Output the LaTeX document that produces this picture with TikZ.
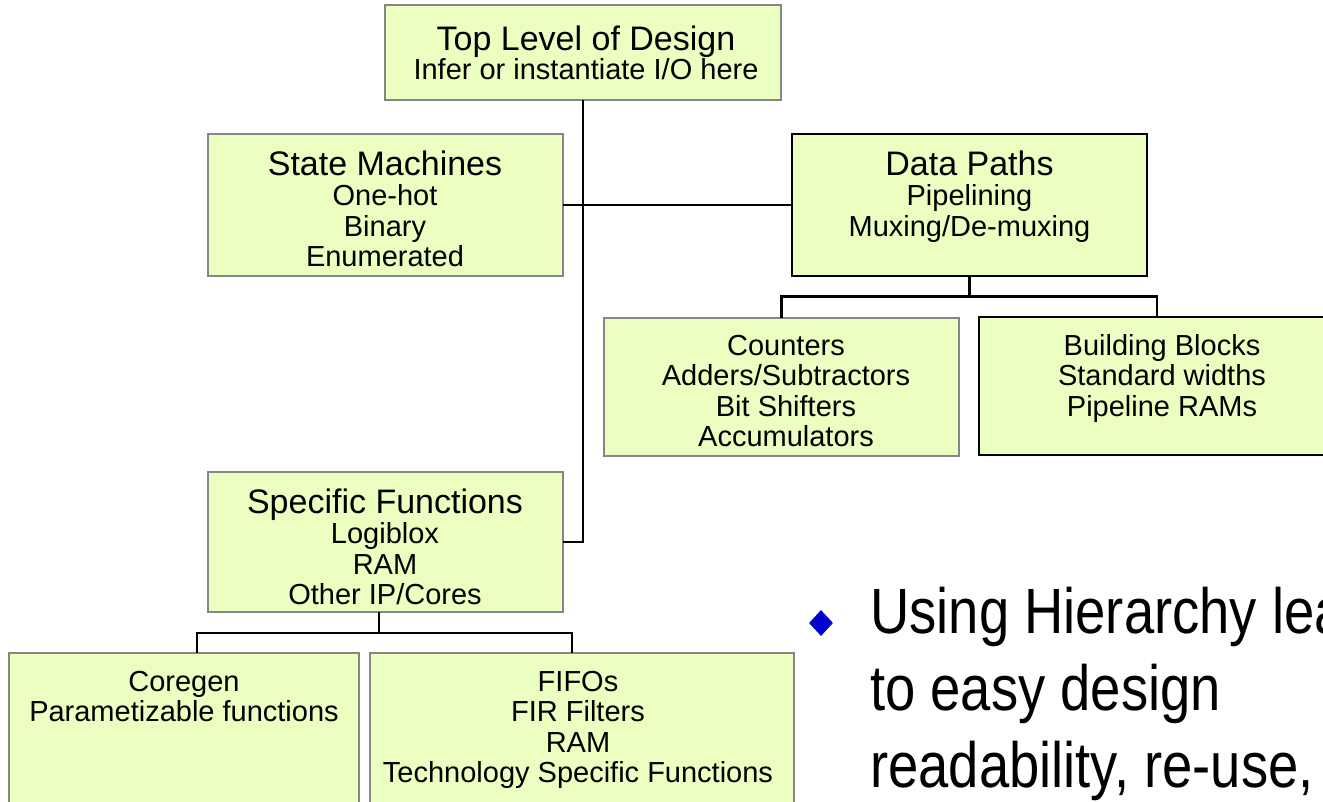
\documentclass[tikz,border=0pt]{standalone}
\usepackage{fontspec}
\setmainfont{Liberation Sans}
\newfontfamily\narrowfont[FakeStretch=0.85]{Liberation Sans}
\usetikzlibrary{shapes.geometric}

\definecolor{boxfill}{RGB}{235,255,192}
\definecolor{boxgray}{RGB}{134,134,134}
\definecolor{bulletblue}{RGB}{0,0,204}

% title line of a box, with a fixed-height strut so the first baseline is known
\newcommand\boxtitle[1]{{\fontsize{34}{30.5}\selectfont\rule{0pt}{26pt}#1}}
\newcommand\firstsub{\rule{0pt}{22pt}}

\begin{document}
\begin{tikzpicture}[x=1pt,y=-1pt,
  box/.style={draw=boxgray, line width=2pt, fill=boxfill, inner sep=0pt, outer sep=0pt},
  darkbox/.style={box, draw=black},
  boxtext/.style={align=center, inner sep=0pt, anchor=north,
                  font=\fontsize{29}{30.5}\selectfont},
  link/.style={line width=2.5pt, draw=black}]
\useasboundingbox (0,0) rectangle (1323,801);
\clip (0,0) rectangle (1323,801);

% ---- boxes ----
\node[box, minimum width=396.5pt, minimum height=94.5pt] (top) at (582.75,52.25) {};
\node[box, minimum width=355pt, minimum height=142pt] (sm) at (385.5,205) {};
\node[darkbox, minimum width=355pt, minimum height=142pt] (dp) at (969.5,205) {};
\node[box, minimum width=355.5pt, minimum height=138.5pt] (ct) at (781.25,386.75) {};
\node[darkbox, minimum width=356pt, minimum height=138pt] (bb) at (1157,386) {};
\node[box, minimum width=355pt, minimum height=140pt] (sf) at (385.5,542) {};
\node[box, minimum width=350pt, minimum height=167pt] (cg) at (184,736.5) {};
\node[box, minimum width=424pt, minimum height=167pt] (ff) at (582,736.5) {};

% ---- box texts ----
\node[boxtext] (toptext) at (586,24) {\boxtitle{Top Level of Design}\\[-1.5pt]Infer or instantiate I/O here};
\node[boxtext] (smtext) at (385,149) {\boxtitle{State Machines}\\One-hot\\Binary\\Enumerated};
\node[boxtext] (dptext) at (969.5,149) {\boxtitle{Data Paths}\\Pipelining\\Muxing/De-muxing};
\node[boxtext] (cttext) at (786,333) {\firstsub Counters\\Adders/Subtractors\\Bit Shifters\\Accumulators};
\node[boxtext] (bbtext) at (1162,333) {\firstsub Building Blocks\\Standard widths\\Pipeline RAMs};
\node[boxtext] (sftext) at (385,487) {\boxtitle{Specific Functions}\\Logiblox\\RAM\\Other IP/Cores};
\node[boxtext] (cgtext) at (184,669) {\firstsub Coregen\\Parametizable functions};
\node[boxtext] (fftext) at (578,669) {\firstsub FIFOs\\FIR Filters\\RAM\\Technology Specific Functions};

% ---- connectors ----
\draw[link] (top.south) |- (sf.east);
\draw[link] (sm.east) -- (dp.west);
\draw[link] (dp.south) -- ++(0,20.5) coordinate (dpj);
\draw[link] (dpj) -| (ct.north);
\draw[link] (dpj) -| (bb.north);
\draw[link] ([xshift=-6.5pt]sf.south) -- ++(0,21) coordinate (sfj);
\draw[link] (sfj) -| ([xshift=13pt]cg.north);
\draw[link] (sfj) -| ([xshift=-10pt]ff.north);

% ---- bullet point ----
\node[diamond, fill=bulletblue, inner sep=0pt, minimum width=24pt, minimum height=26pt] (bulmark) at (821,623) {};
\node[anchor=north west, inner sep=0pt, align=left,
      font=\narrowfont\fontsize{64}{77}\selectfont] (bultext) at (870,585)
  {\rule{0pt}{48pt}Using Hierarchy lea\\to easy design\\readability, re-use,};
\end{tikzpicture}
\end{document}
